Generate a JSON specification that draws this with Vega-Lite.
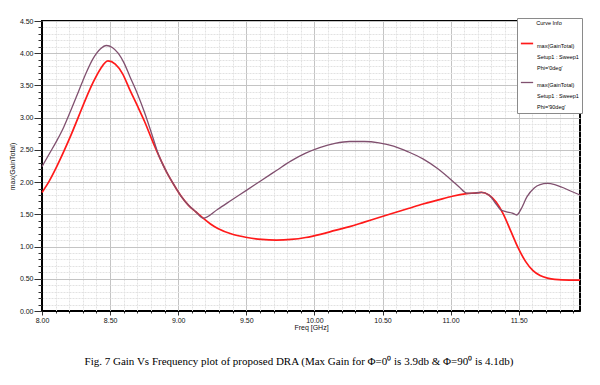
{
  "$schema": "https://vega.github.io/schema/vega-lite/v6.json",
  "autosize": {"type": "none"},
  "width": 538,
  "height": 290,
  "padding": {"left": 42, "top": 21, "right": 20, "bottom": 74},
  "background": "white",
  "title": {
    "text": "Fig. 7 Gain Vs Frequency plot of proposed DRA (Max Gain for Φ=0⁰  is 3.9db & Φ=90⁰ is 4.1db)",
    "orient": "bottom",
    "anchor": "middle",
    "font": "Liberation Serif",
    "fontSize": 11,
    "fontWeight": "normal",
    "color": "#000000",
    "offset": 26,
    "dx": -12
  },
  "config": {
    "view": {"stroke": "#000000", "strokeWidth": 2},
    "style": {"guide-label": {"lineHeight": 11}},
    "axis": {
      "labelFont": "Liberation Sans Narrow, Liberation Sans, sans-serif",
      "labelFontSize": 7,
      "labelColor": "#111111",
      "titleFont": "Liberation Sans Narrow, Liberation Sans, sans-serif",
      "titleFontSize": 7,
      "titleFontWeight": "normal",
      "titleColor": "#111111",
      "domainColor": "#000000",
      "tickColor": "#333333",
      "labelOverlap": false,
      "labelFlush": false
    }
  },
  "data": {
    "values": [
      {"f": 8.000, "g": 1.84, "s": "phi0"},
      {"f": 8.054, "g": 2.02, "s": "phi0"},
      {"f": 8.108, "g": 2.24, "s": "phi0"},
      {"f": 8.161, "g": 2.48, "s": "phi0"},
      {"f": 8.215, "g": 2.74, "s": "phi0"},
      {"f": 8.269, "g": 3.02, "s": "phi0"},
      {"f": 8.323, "g": 3.30, "s": "phi0"},
      {"f": 8.376, "g": 3.55, "s": "phi0"},
      {"f": 8.430, "g": 3.76, "s": "phi0"},
      {"f": 8.484, "g": 3.88, "s": "phi0"},
      {"f": 8.538, "g": 3.83, "s": "phi0"},
      {"f": 8.592, "g": 3.68, "s": "phi0"},
      {"f": 8.645, "g": 3.43, "s": "phi0"},
      {"f": 8.699, "g": 3.19, "s": "phi0"},
      {"f": 8.753, "g": 2.94, "s": "phi0"},
      {"f": 8.807, "g": 2.66, "s": "phi0"},
      {"f": 8.860, "g": 2.40, "s": "phi0"},
      {"f": 8.914, "g": 2.16, "s": "phi0"},
      {"f": 8.968, "g": 1.96, "s": "phi0"},
      {"f": 9.022, "g": 1.78, "s": "phi0"},
      {"f": 9.076, "g": 1.64, "s": "phi0"},
      {"f": 9.129, "g": 1.54, "s": "phi0"},
      {"f": 9.183, "g": 1.44, "s": "phi0"},
      {"f": 9.237, "g": 1.35, "s": "phi0"},
      {"f": 9.291, "g": 1.28, "s": "phi0"},
      {"f": 9.398, "g": 1.19, "s": "phi0"},
      {"f": 9.506, "g": 1.14, "s": "phi0"},
      {"f": 9.613, "g": 1.11, "s": "phi0"},
      {"f": 9.721, "g": 1.10, "s": "phi0"},
      {"f": 9.829, "g": 1.11, "s": "phi0"},
      {"f": 9.936, "g": 1.14, "s": "phi0"},
      {"f": 10.044, "g": 1.19, "s": "phi0"},
      {"f": 10.151, "g": 1.25, "s": "phi0"},
      {"f": 10.259, "g": 1.31, "s": "phi0"},
      {"f": 10.366, "g": 1.38, "s": "phi0"},
      {"f": 10.474, "g": 1.45, "s": "phi0"},
      {"f": 10.581, "g": 1.52, "s": "phi0"},
      {"f": 10.689, "g": 1.59, "s": "phi0"},
      {"f": 10.797, "g": 1.66, "s": "phi0"},
      {"f": 10.904, "g": 1.72, "s": "phi0"},
      {"f": 11.012, "g": 1.78, "s": "phi0"},
      {"f": 11.119, "g": 1.82, "s": "phi0"},
      {"f": 11.173, "g": 1.83, "s": "phi0"},
      {"f": 11.227, "g": 1.84, "s": "phi0"},
      {"f": 11.281, "g": 1.80, "s": "phi0"},
      {"f": 11.334, "g": 1.69, "s": "phi0"},
      {"f": 11.388, "g": 1.50, "s": "phi0"},
      {"f": 11.442, "g": 1.24, "s": "phi0"},
      {"f": 11.496, "g": 0.98, "s": "phi0"},
      {"f": 11.550, "g": 0.77, "s": "phi0"},
      {"f": 11.603, "g": 0.63, "s": "phi0"},
      {"f": 11.657, "g": 0.55, "s": "phi0"},
      {"f": 11.711, "g": 0.51, "s": "phi0"},
      {"f": 11.765, "g": 0.49, "s": "phi0"},
      {"f": 11.872, "g": 0.48, "s": "phi0"},
      {"f": 11.950, "g": 0.48, "s": "phi0"},
      {"f": 8.000, "g": 2.24, "s": "phi90"},
      {"f": 8.054, "g": 2.44, "s": "phi90"},
      {"f": 8.108, "g": 2.64, "s": "phi90"},
      {"f": 8.161, "g": 2.86, "s": "phi90"},
      {"f": 8.215, "g": 3.13, "s": "phi90"},
      {"f": 8.269, "g": 3.41, "s": "phi90"},
      {"f": 8.323, "g": 3.69, "s": "phi90"},
      {"f": 8.376, "g": 3.92, "s": "phi90"},
      {"f": 8.430, "g": 4.07, "s": "phi90"},
      {"f": 8.473, "g": 4.12, "s": "phi90"},
      {"f": 8.516, "g": 4.09, "s": "phi90"},
      {"f": 8.559, "g": 4.00, "s": "phi90"},
      {"f": 8.602, "g": 3.85, "s": "phi90"},
      {"f": 8.645, "g": 3.64, "s": "phi90"},
      {"f": 8.699, "g": 3.38, "s": "phi90"},
      {"f": 8.753, "g": 3.08, "s": "phi90"},
      {"f": 8.807, "g": 2.74, "s": "phi90"},
      {"f": 8.860, "g": 2.40, "s": "phi90"},
      {"f": 8.914, "g": 2.16, "s": "phi90"},
      {"f": 8.968, "g": 1.96, "s": "phi90"},
      {"f": 9.022, "g": 1.78, "s": "phi90"},
      {"f": 9.076, "g": 1.64, "s": "phi90"},
      {"f": 9.129, "g": 1.54, "s": "phi90"},
      {"f": 9.183, "g": 1.44, "s": "phi90"},
      {"f": 9.291, "g": 1.58, "s": "phi90"},
      {"f": 9.398, "g": 1.73, "s": "phi90"},
      {"f": 9.506, "g": 1.88, "s": "phi90"},
      {"f": 9.613, "g": 2.03, "s": "phi90"},
      {"f": 9.721, "g": 2.18, "s": "phi90"},
      {"f": 9.829, "g": 2.33, "s": "phi90"},
      {"f": 9.936, "g": 2.45, "s": "phi90"},
      {"f": 10.044, "g": 2.54, "s": "phi90"},
      {"f": 10.151, "g": 2.60, "s": "phi90"},
      {"f": 10.259, "g": 2.63, "s": "phi90"},
      {"f": 10.366, "g": 2.63, "s": "phi90"},
      {"f": 10.474, "g": 2.61, "s": "phi90"},
      {"f": 10.581, "g": 2.56, "s": "phi90"},
      {"f": 10.689, "g": 2.47, "s": "phi90"},
      {"f": 10.797, "g": 2.36, "s": "phi90"},
      {"f": 10.904, "g": 2.21, "s": "phi90"},
      {"f": 11.012, "g": 2.02, "s": "phi90"},
      {"f": 11.065, "g": 1.92, "s": "phi90"},
      {"f": 11.119, "g": 1.83, "s": "phi90"},
      {"f": 11.173, "g": 1.83, "s": "phi90"},
      {"f": 11.227, "g": 1.84, "s": "phi90"},
      {"f": 11.281, "g": 1.80, "s": "phi90"},
      {"f": 11.334, "g": 1.66, "s": "phi90"},
      {"f": 11.367, "g": 1.57, "s": "phi90"},
      {"f": 11.410, "g": 1.54, "s": "phi90"},
      {"f": 11.453, "g": 1.52, "s": "phi90"},
      {"f": 11.485, "g": 1.49, "s": "phi90"},
      {"f": 11.517, "g": 1.58, "s": "phi90"},
      {"f": 11.560, "g": 1.77, "s": "phi90"},
      {"f": 11.614, "g": 1.91, "s": "phi90"},
      {"f": 11.657, "g": 1.96, "s": "phi90"},
      {"f": 11.711, "g": 1.98, "s": "phi90"},
      {"f": 11.765, "g": 1.96, "s": "phi90"},
      {"f": 11.818, "g": 1.92, "s": "phi90"},
      {"f": 11.872, "g": 1.87, "s": "phi90"},
      {"f": 11.950, "g": 1.80, "s": "phi90"}
    ]
  },
  "mark": {"type": "line", "interpolate": "monotone"},
  "encoding": {
    "x": {
      "field": "f",
      "type": "quantitative",
      "scale": {"domain": [8, 11.95], "nice": false, "zero": false},
      "axis": {
        "title": "Freq [GHz]",
        "titlePadding": 0,
        "values": [8.0, 8.1, 8.2, 8.3, 8.4, 8.5, 8.6, 8.7, 8.8, 8.9, 9.0, 9.1, 9.2, 9.3, 9.4, 9.5, 9.6, 9.7, 9.8, 9.9, 10.0, 10.1, 10.2, 10.3, 10.4, 10.5, 10.6, 10.7, 10.8, 10.9, 11.0, 11.1, 11.2, 11.3, 11.4, 11.5, 11.6, 11.7, 11.8, 11.9],
        "labelExpr": "abs(datum.value*2 - round(datum.value*2)) < 0.001 ? format(datum.value, '.2f') : ''",
        "labelPadding": 1,
        "tickSize": {"condition": {"test": "abs(datum.value*2 - round(datum.value*2)) < 0.001", "value": 4}, "value": 2},
        "gridColor": {"condition": {"test": "abs(datum.value*2 - round(datum.value*2)) < 0.001", "value": "#c4c4c4"}, "value": "#e2e2e2"},
        "gridDash": {"condition": {"test": "abs(datum.value*2 - round(datum.value*2)) < 0.001", "value": []}, "value": [2, 1]},
        "gridWidth": 1
      }
    },
    "y": {
      "field": "g",
      "type": "quantitative",
      "scale": {"domain": [0, 4.5], "nice": false, "zero": true},
      "axis": {
        "title": "max(GainTotal)",
        "titlePadding": 4,
        "values": [0, 0.1, 0.2, 0.3, 0.4, 0.5, 0.6, 0.7, 0.8, 0.9, 1.0, 1.1, 1.2, 1.3, 1.4, 1.5, 1.6, 1.7, 1.8, 1.9, 2.0, 2.1, 2.2, 2.3, 2.4, 2.5, 2.6, 2.7, 2.8, 2.9, 3.0, 3.1, 3.2, 3.3, 3.4, 3.5, 3.6, 3.7, 3.8, 3.9, 4.0, 4.1, 4.2, 4.3, 4.4, 4.5],
        "labelExpr": "abs(datum.value*2 - round(datum.value*2)) < 0.001 ? format(datum.value, '.2f') : ''",
        "labelPadding": 1,
        "tickSize": {"condition": {"test": "abs(datum.value*2 - round(datum.value*2)) < 0.001", "value": 8}, "value": 4},
        "gridColor": {"condition": {"test": "abs(datum.value*2 - round(datum.value*2)) < 0.001", "value": "#c4c4c4"}, "value": "#e2e2e2"},
        "gridDash": {"condition": {"test": "abs(datum.value*2 - round(datum.value*2)) < 0.001", "value": []}, "value": [2, 1]},
        "gridWidth": 1
      }
    },
    "color": {
      "field": "s",
      "type": "nominal",
      "scale": {"domain": ["phi0", "phi90"], "range": ["#ff1a1a", "#80506f"]},
      "legend": {
        "title": "Curve Info",
        "orient": "none",
        "legendX": 475,
        "legendY": -3,
        "direction": "vertical",
        "fillColor": "white",
        "strokeColor": "#8a8a8a",
        "padding": 3,
        "titleFont": "Liberation Sans Narrow, Liberation Sans, sans-serif",
        "titleFontSize": 5.5,
        "titleFontWeight": "normal",
        "titleAnchor": "middle",
        "titlePadding": 10,
        "symbolType": "stroke",
        "symbolSize": 150,
        "symbolStrokeWidth": 2,
        "labelFont": "Liberation Sans Narrow, Liberation Sans, sans-serif",
        "labelFontSize": 5.5,
        "labelBaseline": "top",
        "labelOffset": 3,
        "labelLimit": 80,
        "rowPadding": 4,
        "labelExpr": "datum.value == 'phi0' ? ['max(GainTotal)', 'Setup1 : Sweep1', \"Phi='0deg'\"] : ['max(GainTotal)', 'Setup1 : Sweep1', \"Phi='90deg'\"]"
      }
    },
    "strokeWidth": {
      "field": "s",
      "type": "nominal",
      "scale": {"domain": ["phi0", "phi90"], "range": [1.7, 1.3]},
      "legend": null
    },
    "order": {"field": "f", "type": "quantitative"}
  }
}
